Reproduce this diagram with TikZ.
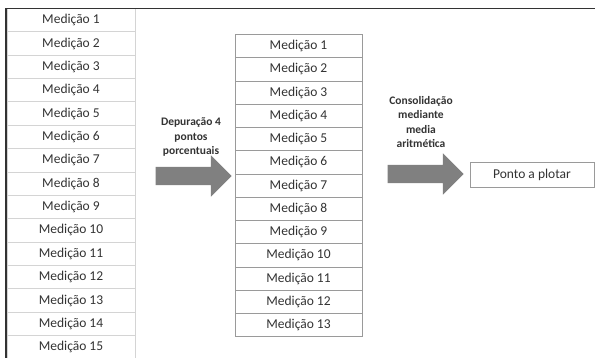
\documentclass[tikz,border=0pt]{standalone}
\usepackage{fontspec}
\setmainfont{Carlito}
\usetikzlibrary{shapes.arrows}

\definecolor{txtgray}{HTML}{333333}
\definecolor{cellline}{HTML}{D4D4D4}
\definecolor{boxline}{HTML}{9A9A9A}
\definecolor{arrowgray}{HTML}{808080}

\tikzset{
	leftcell/.style={draw=cellline, line width=1pt, minimum width=128pt, minimum height=23.36pt, inner sep=0pt, text=txtgray, font=\fontsize{13.5}{15}\selectfont},
	midcell/.style={draw=boxline, line width=0.8pt, minimum width=127pt, minimum height=23.25pt, inner sep=0pt, text=txtgray, font=\fontsize{13.5}{15}\selectfont},
	steplabel/.style={align=center, text=txtgray, font=\fontsize{11.5}{14.2}\selectfont\bfseries},
	bigarrow/.style={single arrow, fill=arrowgray, draw=none, inner xsep=0pt, inner ysep=9pt, single arrow head extend=11.5pt, single arrow head indent=0pt, shape border rotate=0}
}

\begin{document}
\begin{tikzpicture}[x=1pt, y=-1pt]
		\useasboundingbox (0,0) rectangle (595,358);
		\fill[white] (0,0) rectangle (595,358);

		% all measurements
		\node[leftcell] (l1) at (71,20.2) {Medição 1};
		\node[leftcell] (l2) at (71,43.6) {Medição 2};
		\node[leftcell] (l3) at (71,66.9) {Medição 3};
		\node[leftcell] (l4) at (71,90.3) {Medição 4};
		\node[leftcell] (l5) at (71,113.6) {Medição 5};
		\node[leftcell] (l6) at (71,137.0) {Medição 6};
		\node[leftcell] (l7) at (71,160.4) {Medição 7};
		\node[leftcell] (l8) at (71,183.7) {Medição 8};
		\node[leftcell] (l9) at (71,207.1) {Medição 9};
		\node[leftcell] (l10) at (71,230.4) {Medição 10};
		\node[leftcell] (l11) at (71,253.8) {Medição 11};
		\node[leftcell] (l12) at (71,277.2) {Medição 12};
		\node[leftcell] (l13) at (71,300.5) {Medição 13};
		\node[leftcell] (l14) at (71,323.9) {Medição 14};
		\node[leftcell] (l15) at (71,347.2) {Medição 15};

		% after the cut
		\node[midcell] (m1) at (298.5,46.1) {Medição 1};
		\node[midcell] (m2) at (298.5,69.4) {Medição 2};
		\node[midcell] (m3) at (298.5,92.6) {Medição 3};
		\node[midcell] (m4) at (298.5,115.9) {Medição 4};
		\node[midcell] (m5) at (298.5,139.1) {Medição 5};
		\node[midcell] (m6) at (298.5,162.4) {Medição 6};
		\node[midcell] (m7) at (298.5,185.6) {Medição 7};
		\node[midcell] (m8) at (298.5,208.9) {Medição 8};
		\node[midcell] (m9) at (298.5,232.1) {Medição 9};
		\node[midcell] (m10) at (298.5,255.4) {Medição 10};
		\node[midcell] (m11) at (298.5,278.6) {Medição 11};
		\node[midcell] (m12) at (298.5,301.9) {Medição 12};
		\node[midcell] (m13) at (298.5,325.1) {Medição 13};

		\node[bigarrow, minimum height=76pt] (arr1) at (189,176) {};
		\node[steplabel] (cut) at (191,137) {Depuração 4\\pontos\\porcentuais};

		\node[bigarrow, minimum height=76pt] (arr2) at (421,174) {};
		\node[steplabel] (mean) at (421,122) {Consolidação\\mediante\\media\\aritmética};

		\node[draw=boxline, line width=0.8pt, minimum width=124pt, minimum height=25pt, inner sep=0pt, text=txtgray, font=\fontsize{13.5}{15}\selectfont] (point) at (532,174.5) {Ponto a plotar};

		% frame of the sheet
		\draw[txtgray, line width=1.6pt] (6,358) -- (6,8.5) -- (595,8.5);
	    \end{tikzpicture}
\end{document}
